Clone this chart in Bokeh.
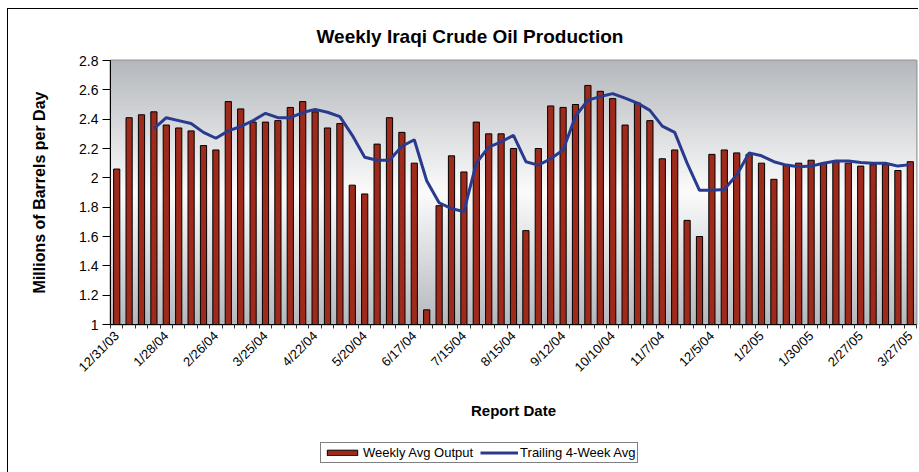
import math
import numpy as np
from bokeh.plotting import figure
from bokeh.layouts import column
from bokeh.models import Range1d, FixedTicker, Legend, LegendItem, NumeralTickFormatter
from bokeh.embed import file_html
from bokeh.resources import INLINE

# ---- data ----
tick_labels = ["12/31/03", "1/28/04", "2/26/04", "3/25/04", "4/22/04", "5/20/04",
               "6/17/04", "7/15/04", "8/15/04", "9/12/04", "10/10/04", "11/7/04",
               "12/5/04", "1/2/05", "1/30/05", "2/27/05", "3/27/05"]
weekly = [2.06, 2.41, 2.43, 2.45, 2.36, 2.34, 2.32, 2.22, 2.19, 2.52,
          2.47, 2.38, 2.38, 2.39, 2.48, 2.52, 2.45, 2.34, 2.37, 1.95,
          1.89, 2.23, 2.41, 2.31, 2.10, 1.10, 1.81, 2.15, 2.04, 2.38,
          2.30, 2.30, 2.20, 1.64, 2.20, 2.49, 2.48, 2.50, 2.63, 2.59,
          2.54, 2.36, 2.51, 2.39, 2.13, 2.19, 1.71, 1.60, 2.16, 2.19,
          2.17, 2.16, 2.10, 1.99, 2.09, 2.10, 2.12, 2.10, 2.11, 2.10,
          2.08, 2.09, 2.09, 2.05, 2.11]
trailing = [float("nan")] * 3 + [
    2.335, 2.41, 2.39, 2.37, 2.31, 2.27, 2.32, 2.35, 2.39, 2.44,
    2.41, 2.41, 2.445, 2.467, 2.447, 2.417, 2.29, 2.14, 2.12, 2.12,
    2.215, 2.26, 1.98, 1.83, 1.79, 1.77, 2.10, 2.21, 2.245, 2.29,
    2.11, 2.087, 2.13, 2.19, 2.42, 2.53, 2.554, 2.574, 2.543, 2.51,
    2.46, 2.353, 2.31, 2.10, 1.915, 1.915, 1.92, 2.02, 2.17, 2.15,
    2.11, 2.087, 2.075, 2.08, 2.10, 2.115, 2.115, 2.105, 2.10, 2.10,
    2.08, 2.09]
y_ticks = [1.0, 1.2, 1.4, 1.6, 1.8, 2.0, 2.2, 2.4, 2.6, 2.8]
label_every = 4

n = len(weekly)
x = list(range(n))
x0, x1 = -0.5, n - 0.5
y0, y1 = y_ticks[0], y_ticks[-1]

FONT = "Liberation Sans"
BAR_COLOR = "#9e2a1c"
LINE_COLOR = "#2a3b8f"
W = 910

p = figure(width=W, height=416, x_range=Range1d(x0, x1), y_range=Range1d(y0, y1),
           output_backend="svg", toolbar_location=None,
           min_border_left=102, min_border_right=2, min_border_top=51, min_border_bottom=101)

# gradient background (gray - white - gray)
rows = 200
t = np.abs(np.linspace(-1, 1, rows))
top = np.array([181, 185, 189])
white = np.array([252, 252, 252])
cols = (white[None, :] * (1 - t[:, None]) + top[None, :] * t[:, None]).astype(np.uint32)
img = np.empty((rows, 1), dtype=np.uint32)
view = img.view(dtype=np.uint8).reshape((rows, 1, 4))
view[:, 0, 0] = cols[:, 0]
view[:, 0, 1] = cols[:, 1]
view[:, 0, 2] = cols[:, 2]
view[:, 0, 3] = 255
p.image_rgba(image=[img], x=x0, y=y0, dw=x1 - x0, dh=y1 - y0)

p.vbar(x=x, top=weekly, bottom=y0, width=0.5, fill_color=BAR_COLOR,
       line_color="#000000", line_width=1)
p.line(x=x, y=trailing, line_color=LINE_COLOR, line_width=3)

p.grid.visible = False
p.background_fill_color = "#ffffff"
p.outline_line_color = "#999999"
p.outline_line_width = 2

# title
p.title.text = "Weekly Iraqi Crude Oil Production"
p.title.text_font = FONT
p.title.text_font_size = "19px"
p.title.text_font_style = "bold"
p.title.text_color = "#000000"
p.title.align = "left"
p.title.offset = 206
p.title.standoff = 27

# x axis
xa = p.xaxis[0]
xa.ticker = FixedTicker(ticks=list(range(0, n, label_every)),
                        minor_ticks=[i - 0.5 for i in range(n + 1)])
xa.major_label_overrides = {i * label_every: lab for i, lab in enumerate(tick_labels)}
xa.major_label_orientation = math.pi / 4
xa.major_tick_line_color = None
xa.major_tick_out = 4
xa.major_tick_in = 0
xa.minor_tick_out = 4
xa.minor_tick_in = 0
xa.minor_tick_line_color = "#333333"
xa.axis_line_color = "#000000"
xa.major_label_text_font = FONT
xa.major_label_text_font_size = "13px"
xa.major_label_text_color = "#000000"
xa.axis_label = "Report Date"
xa.axis_label_text_font = FONT
xa.axis_label_text_font_size = "15px"
xa.axis_label_text_font_style = "bold"
xa.axis_label_text_color = "#000000"
xa.axis_label_standoff = 19

# y axis
ya = p.yaxis[0]
ya.ticker = FixedTicker(ticks=y_ticks, minor_ticks=[])
ya.formatter = NumeralTickFormatter(format="0.[0]")
ya.major_tick_out = 8
ya.major_tick_in = 0
ya.minor_tick_line_color = None
ya.axis_line_color = "#000000"
ya.major_label_text_font = FONT
ya.major_label_text_font_size = "14px"
ya.major_label_text_color = "#000000"
ya.major_label_standoff = 4
ya.axis_label = "Millions of Barrels per Day"
ya.axis_label_text_font = FONT
ya.axis_label_text_font_size = "16px"
ya.axis_label_text_font_style = "bold"
ya.axis_label_text_color = "#000000"
ya.axis_label_standoff = 28

# legend strip: a second figure below the chart; its renderers hold the same
# data but lie far outside its y range, so only the legend is visible there
pl = figure(width=W, height=47, x_range=Range1d(x0, x1), y_range=Range1d(100.0, 101.0),
            output_backend="svg", toolbar_location=None,
            x_axis_location=None, y_axis_location=None,
            min_border_left=102, min_border_right=2, min_border_top=0, min_border_bottom=0)
pl.grid.visible = False
pl.outline_line_color = None
lb = pl.vbar(x=x, top=weekly, bottom=y0, width=0.5, fill_color=BAR_COLOR,
             line_color="#000000", line_width=1)
ll = pl.line(x=x, y=trailing, line_color=LINE_COLOR, line_width=3)
legend = Legend(items=[LegendItem(label="Weekly Avg Output", renderers=[lb]),
                       LegendItem(label="Trailing 4-Week Avg", renderers=[ll])],
                orientation="horizontal", location=(210, 9),
                label_text_font=FONT, label_text_font_size="13px",
                label_text_color="#000000",
                glyph_width=38, glyph_height=7, label_standoff=2, spacing=7,
                padding=2, margin=0, border_line_color="#000000", border_line_width=1,
                label_height=12)
pl.add_layout(legend, "center")

layout = column(p, pl, spacing=0,
                styles={"margin-left": "7px", "margin-top": "8px",
                        "border-left": "1px solid #000000", "border-top": "1px solid #000000"})

open("out.html", "w").write(file_html(layout, INLINE))
